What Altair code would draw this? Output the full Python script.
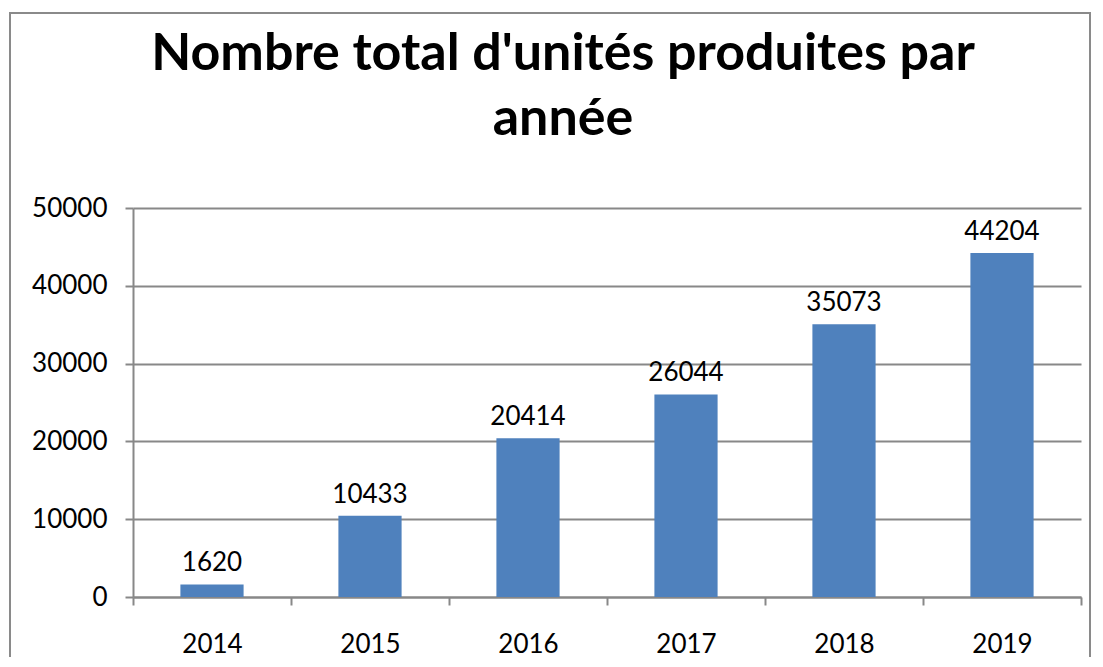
import altair as alt
import pandas as pd

years = ["2014", "2015", "2016", "2017", "2018", "2019"]
units = [1620, 10433, 20414, 26044, 35073, 44204]
y_ticks = [0, 10000, 20000, 30000, 40000, 50000]
title_lines = ["Nombre total d'unités produites par", "année"]

df = pd.DataFrame({"annee": years, "unites": units})

FONT = "Lato"
W, H = 948, 389

x_enc = alt.X("annee:N", sort=years, title=None,
              scale=alt.Scale(paddingInner=0, paddingOuter=0),
              axis=alt.Axis(labelAngle=0, tickBand="extent", labelFont=FONT,
                            labelFontSize=26, labelColor="black", labelPadding=26,
                            tickSize=8, tickColor="#888888", tickWidth=2,
                            domainColor="#888888", domainWidth=2, grid=False))
y_enc = alt.Y("unites:Q", title=None,
              scale=alt.Scale(domain=[0, 50000], nice=False),
              axis=alt.Axis(values=y_ticks, format="d", labelFont=FONT,
                            labelFontSize=26, labelColor="black", labelPadding=18,
                            tickSize=8, tickColor="#888888", tickWidth=2,
                            domainColor="#888888", domainWidth=2,
                            grid=True, gridColor="#888888", gridWidth=2))

border = alt.Chart(pd.DataFrame({"k": [0]})).mark_rect(
    fill=None, stroke="#8a8a8a", strokeWidth=2
).encode(x=alt.value(-123), x2=alt.value(957), y=alt.value(-195), y2=alt.value(480))

bars = alt.Chart(df).mark_bar(
    color="#4F81BD", width=alt.RelativeBandSize(0.4)
).encode(x=x_enc, y=y_enc)

labels = alt.Chart(df).mark_text(
    font=FONT, fontSize=26, color="black", baseline="alphabetic", dy=-13
).encode(x=alt.X("annee:N", sort=years), y="unites:Q", text=alt.Text("unites:Q", format="d"))

chart = alt.layer(border, bars, labels).properties(
    width=W, height=H,
    title=alt.TitleParams(text=title_lines, anchor="middle", font=FONT, fontSize=52,
                          fontWeight="bold", color="black", lineHeight=65,
                          dx=-44, offset=-134),
    padding={"left": 125, "top": 200, "right": 10, "bottom": 60},
    autosize=alt.AutoSizeParams(type="none"),
).configure_view(stroke=None)

chart.save("out.html", embed_options={"renderer": "svg", "actions": False})
